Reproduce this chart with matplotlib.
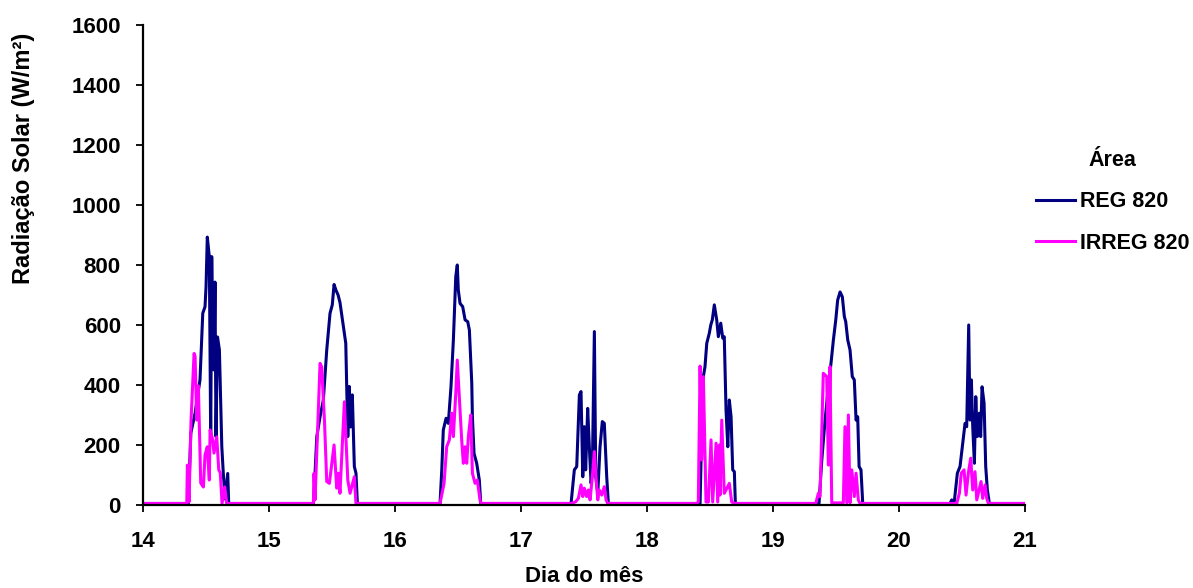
import matplotlib
matplotlib.use("Agg")
import matplotlib.pyplot as plt
import numpy as np

plt.rcParams['font.family'] = ['Liberation Sans', 'DejaVu Sans']
plt.rcParams['font.weight'] = 'bold'

# Night-time baseline (W/m2)
night = 5

# REG 820 - one list of times (day of month) and values per day
reg_14_t = [14.360, 14.379, 14.413, 14.452, 14.474, 14.492, 14.500, 14.510, 14.518, 14.526,
            14.537, 14.545, 14.553, 14.563, 14.571, 14.579, 14.591, 14.606, 14.625, 14.637,
            14.651, 14.672, 14.680]
reg_14_v = [5, 239, 306, 417, 639, 661, 728, 893, 860, 828,
            217, 828, 583, 450, 743, 228, 560, 517, 195, 105,
            20, 105, 5]
reg_15_t = [15.352, 15.365, 15.379, 15.405, 15.431, 15.458, 15.484, 15.502, 15.516, 15.532,
            15.548, 15.563, 15.590, 15.609, 15.625, 15.637, 15.647, 15.661, 15.677, 15.690, 15.701]
reg_15_v = [5, 105, 228, 294, 350, 517, 639, 667, 735, 715,
            700, 675, 594, 539, 228, 395, 260, 367, 128, 106, 5]
reg_16_t = [16.357, 16.371, 16.383, 16.405, 16.423, 16.444, 16.463, 16.482, 16.494, 16.502,
            16.516, 16.537, 16.556, 16.577, 16.590, 16.609, 16.614, 16.627, 16.648, 16.669, 16.680]
reg_16_v = [5, 117, 250, 289, 272, 394, 550, 761, 800, 717,
            672, 661, 617, 611, 583, 406, 294, 172, 139, 83, 5]
reg_17_t = [17.397, 17.423, 17.442, 17.463, 17.476, 17.490, 17.502, 17.513, 17.529, 17.542,
            17.556, 17.566, 17.582, 17.593, 17.609, 17.627, 17.645, 17.661, 17.680, 17.693]
reg_17_v = [5, 117, 128, 367, 378, 94, 261, 117, 322, 194,
            72, 117, 578, 94, 39, 194, 278, 272, 94, 5]
reg_18_t = [18.421, 18.434, 18.447, 18.460, 18.474, 18.494, 18.506, 18.518, 18.534, 18.553,
            18.566, 18.585, 18.601, 18.613, 18.627, 18.641, 18.653, 18.667, 18.680, 18.693, 18.701]
reg_18_v = [5, 250, 428, 461, 539, 572, 600, 617, 667, 617,
            561, 606, 556, 561, 317, 194, 350, 294, 117, 111, 5]
reg_19_t = [19.365, 19.387, 19.413, 19.439, 19.460, 19.479, 19.498, 19.513, 19.532, 19.550,
            19.566, 19.577, 19.593, 19.611, 19.629, 19.645, 19.659, 19.672, 19.683, 19.698, 19.712]
reg_19_v = [5, 150, 283, 394, 472, 550, 617, 683, 710, 694,
            628, 611, 550, 517, 428, 417, 283, 294, 128, 117, 5]
reg_20_t = [20.405, 20.418, 20.437, 20.463, 20.484, 20.506, 20.524, 20.537, 20.553, 20.563,
            20.574, 20.585, 20.598, 20.609, 20.621, 20.637, 20.648, 20.659, 20.675, 20.688,
            20.701, 20.717]
reg_20_v = [5, 17, 5, 106, 128, 206, 272, 261, 600, 283,
            417, 261, 139, 361, 228, 306, 228, 394, 339, 128,
            50, 5]

# IRREG 820
irr_14_t = [14.347, 14.352, 14.365, 14.381, 14.405, 14.413, 14.426, 14.439, 14.458, 14.479,
            14.492, 14.510, 14.526, 14.532, 14.553, 14.563, 14.585, 14.601, 14.613, 14.627,
            14.648, 14.664]
irr_14_v = [5, 133, 10, 283, 505, 495, 283, 397, 73, 60,
            167, 194, 83, 250, 217, 173, 227, 117, 107, 5,
            60, 5]
irr_15_t = [15.352, 15.357, 15.365, 15.405, 15.418, 15.431, 15.440, 15.458, 15.479, 15.516,
            15.537, 15.550, 15.563, 15.598, 15.625, 15.643, 15.677, 15.690]
irr_15_v = [5, 105, 17, 472, 460, 350, 280, 78, 72, 200,
            56, 106, 39, 344, 83, 39, 94, 5]
irr_16_t = [16.357, 16.389, 16.410, 16.431, 16.450, 16.463, 16.482, 16.494, 16.510, 16.529,
            16.542, 16.556, 16.569, 16.582, 16.601, 16.614, 16.635, 16.653, 16.675, 16.683]
irr_16_v = [5, 72, 194, 217, 306, 228, 372, 483, 361, 217,
            139, 194, 139, 228, 300, 106, 72, 83, 15, 5]
irr_17_t = [17.402, 17.434, 17.455, 17.476, 17.490, 17.502, 17.521, 17.534, 17.548, 17.566,
            17.582, 17.595, 17.609, 17.621, 17.641, 17.661, 17.675, 17.688]
irr_17_v = [5, 11, 22, 67, 28, 56, 28, 50, 17, 94,
            178, 94, 17, 50, 33, 61, 17, 5]
irr_18_t = [18.394, 18.407, 18.421, 18.434, 18.447, 18.468, 18.487, 18.508, 18.521, 18.548,
            18.561, 18.574, 18.579, 18.593, 18.613, 18.627, 18.653, 18.672, 18.698]
irr_18_v = [5, 10, 463, 150, 428, 10, 10, 217, 10, 206,
            10, 200, 33, 283, 39, 50, 72, 10, 5]
irr_19_t = [19.339, 19.360, 19.373, 19.399, 19.426, 19.439, 19.452, 19.466, 19.558, 19.571,
            19.585, 19.598, 19.611, 19.625, 19.645, 19.659, 19.677, 19.690]
irr_19_v = [5, 39, 28, 439, 428, 133, 461, 7, 7, 261,
            7, 300, 7, 117, 28, 106, 17, 5]
irr_20_t = [20.458, 20.479, 20.494, 20.516, 20.532, 20.550, 20.569, 20.585, 20.603, 20.617,
            20.635, 20.651, 20.664, 20.683, 20.696, 20.709]
irr_20_v = [5, 39, 106, 117, 33, 106, 156, 50, 111, 17,
            50, 78, 22, 67, 22, 5]


def join_days(times, values):
    t = [14.0]
    v = [night]
    for tt, vv in zip(times, values):
        t += tt
        v += vv
    t.append(21.0)
    v.append(night)
    return np.array(t), np.array(v)


reg_t, reg_v = join_days(
    [reg_14_t, reg_15_t, reg_16_t, reg_17_t, reg_18_t, reg_19_t, reg_20_t],
    [reg_14_v, reg_15_v, reg_16_v, reg_17_v, reg_18_v, reg_19_v, reg_20_v])
irr_t, irr_v = join_days(
    [irr_14_t, irr_15_t, irr_16_t, irr_17_t, irr_18_t, irr_19_t, irr_20_t],
    [irr_14_v, irr_15_v, irr_16_v, irr_17_v, irr_18_v, irr_19_v, irr_20_v])

fig = plt.figure(figsize=(11.93, 5.88), dpi=100)
ax = fig.add_axes([0.1199, 0.1412, 0.7393, 0.8163])

ax.plot(reg_t, reg_v, color='#000080', lw=2.2, label='REG 820')
ax.plot(irr_t, irr_v, color='#FF00FF', lw=2.2, label='IRREG 820')

ax.set_xlim(14, 21)
ax.set_ylim(0, 1600)
ax.set_xticks(range(14, 22))
ax.set_yticks(range(0, 1601, 200))
ax.spines['top'].set_visible(False)
ax.spines['right'].set_visible(False)
for s in ['left', 'bottom']:
    ax.spines[s].set_linewidth(1.6)
ax.tick_params(axis='both', labelsize=16, width=1.3, length=5, direction='out')
ax.tick_params(axis='y', pad=11)
ax.tick_params(axis='x', pad=14)
for lbl in ax.get_xticklabels() + ax.get_yticklabels():
    lbl.set_fontweight('bold')

ax.set_xlabel('Dia do mês', fontsize=16, fontweight='bold', labelpad=10)
ax.set_ylabel('Radiação Solar (W/m²)', fontsize=17, fontweight='bold')
ax.yaxis.set_label_coords(-0.122, 0.723)

leg = fig.legend(loc='upper left', bbox_to_anchor=(0.852, 0.778), frameon=False,
                 title='Área', fontsize=15.5, handlelength=1.8, handletextpad=0.25,
                 labelspacing=0.95)
leg.get_title().set_fontsize(15.5)
leg.get_title().set_fontweight('bold')
for txt in leg.get_texts():
    txt.set_fontweight('bold')

fig.savefig('out.png', dpi=100)
